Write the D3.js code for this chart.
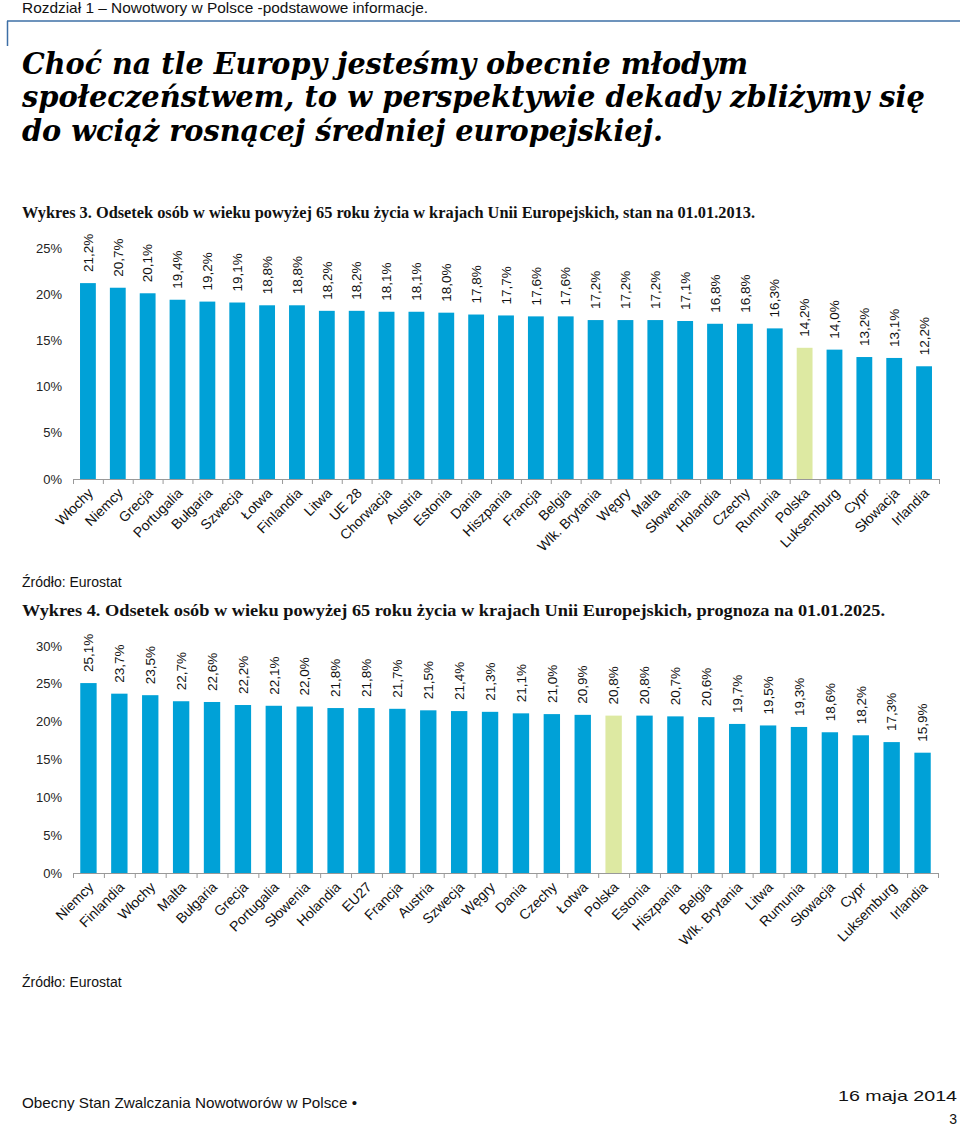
<!DOCTYPE html>
<html><head><meta charset="utf-8">
<script src="https://cdn.jsdelivr.net/npm/d3@7/dist/d3.min.js"></script>
<style>body{margin:0;background:#fff}svg{display:block}</style>
</head><body>
<script>
const categories1 = ["Włochy","Niemcy","Grecja","Portugalia","Bułgaria","Szwecja","Łotwa","Finlandia","Litwa","UE 28","Chorwacja","Austria","Estonia","Dania","Hiszpania","Francja","Belgia","Wlk. Brytania","Węgry","Malta","Słowenia","Holandia","Czechy","Rumunia","Polska","Luksemburg","Cypr","Słowacja","Irlandia"];
const values1 = [21.2,20.7,20.1,19.4,19.2,19.1,18.8,18.8,18.2,18.2,18.1,18.1,18.0,17.8,17.7,17.6,17.6,17.2,17.2,17.2,17.1,16.8,16.8,16.3,14.2,14.0,13.2,13.1,12.2];
const ticks1 = [0,5,10,15,20,25];

const categories2 = ["Niemcy","Finlandia","Włochy","Malta","Bułgaria","Grecja","Portugalia","Słowenia","Holandia","EU27","Francja","Austria","Szwecja","Węgry","Dania","Czechy","Łotwa","Polska","Estonia","Hiszpania","Belgia","Wlk. Brytania","Litwa","Rumunia","Słowacja","Cypr","Luksemburg","Irlandia"];
const values2 = [25.1,23.7,23.5,22.7,22.6,22.2,22.1,22.0,21.8,21.8,21.7,21.5,21.4,21.3,21.1,21.0,20.9,20.8,20.8,20.7,20.6,19.7,19.5,19.3,18.6,18.2,17.3,15.9];
const ticks2 = [0,5,10,15,20,25,30];

const highlight = "Polska";

const W = 960, H = 1127;
const svg = d3.select("body").append("svg").attr("width", W).attr("height", H);
const sans = "Liberation Sans, Arial, sans-serif";
const serif = "DejaVu Serif, Georgia, serif";

// Header
svg.append("text").attr("x", 22).attr("y", 13).attr("font-family", sans).attr("font-size", 15)
  .attr("fill", "#111").attr("textLength", 406).attr("lengthAdjust","spacingAndGlyphs")
  .text("Rozdział 1 – Nowotwory w Polsce -podstawowe informacje.");
svg.append("line").attr("x1", 7).attr("x2", 960).attr("y1", 21).attr("y2", 21).attr("stroke", "#3d6fa6").attr("stroke-width", 1.5);
svg.append("line").attr("x1", 7.5).attr("x2", 7.5).attr("y1", 21).attr("y2", 46).attr("stroke", "#3d6fa6").attr("stroke-width", 1.5);

// Title
const titleLines = [
  ["Choć na tle Europy jesteśmy obecnie młodym", 74, 726],
  ["społeczeństwem, to w perspektywie dekady zbliżymy się", 107, 903],
  ["do wciąż rosnącej średniej europejskiej.", 141, 641]
];
titleLines.forEach(([t, y, len]) => {
  svg.append("text").attr("x", 22).attr("y", y).attr("font-family", serif).attr("font-size", 29)
    .attr("font-weight", "bold").attr("font-style", "italic").attr("fill", "#000")
    .attr("textLength", len).attr("lengthAdjust", "spacingAndGlyphs").text(t);
});

function subtitle(t, y, len) {
  svg.append("text").attr("x", 22).attr("y", y).attr("font-family", "Liberation Serif, serif").attr("font-size", 17)
    .attr("font-weight", "bold").attr("fill", "#111")
    .attr("textLength", len).attr("lengthAdjust", "spacingAndGlyphs").text(t);
}
subtitle("Wykres 3. Odsetek  osób w wieku powyżej 65 roku życia w krajach Unii Europejskich, stan na 01.01.2013.", 218, 733);
subtitle("Wykres 4. Odsetek  osób w wieku powyżej 65 roku życia w krajach Unii Europejskich, prognoza na 01.01.2025.", 616, 863);

function chart(cats, vals, ticks, x0, x1, y0, yTop, maxV) {
  const g = svg.append("g");
  const x = d3.scaleBand().domain(cats).range([x0, x1]).paddingInner(0.47).paddingOuter(0.235);
  const y = d3.scaleLinear().domain([0, maxV]).range([y0, yTop]);
  g.selectAll(".yt").data(ticks).join("text")
    .attr("x", 62).attr("y", d => y(d)).attr("dy", "0.35em").attr("text-anchor", "end")
    .attr("font-family", sans).attr("font-size", 13).attr("fill", "#222").text(d => d + "%");
  g.selectAll(".bar").data(cats).join("rect")
    .attr("x", d => x(d)).attr("width", x.bandwidth())
    .attr("y", (d, i) => y(vals[i])).attr("height", (d, i) => y(0) - y(vals[i]))
    .attr("fill", d => d === highlight ? "#dde9a2" : "#00a1d7");
  const step = x.step();
  g.append("line").attr("x1", x0).attr("x2", x1).attr("y1", y0 + 0.5).attr("y2", y0 + 0.5).attr("stroke", "#999");
  g.selectAll(".tk").data(d3.range(cats.length + 1)).join("line")
    .attr("x1", i => x0 + i * step + 0.5).attr("x2", i => x0 + i * step + 0.5)
    .attr("y1", y0).attr("y2", y0 + 5).attr("stroke", "#999");
  g.selectAll(".vl").data(cats).join("text")
    .attr("transform", (d, i) => `translate(${x(d) + x.bandwidth() / 2},${y(vals[i]) - 11}) rotate(-90)`)
    .attr("dy", "0.35em").attr("font-family", sans).attr("font-size", 13.5).attr("fill", "#111")
    .text((d, i) => vals[i].toFixed(1).replace(".", ",") + "%");
  g.selectAll(".cl").data(cats).join("text")
    .attr("transform", d => `translate(${x(d) + x.bandwidth() / 2 + 6},${y0 + 15}) rotate(-45)`)
    .attr("text-anchor", "end").attr("font-family", sans).attr("font-size", 14).attr("fill", "#111")
    .text(d => d);
}
chart(categories1, values1, ticks1, 73, 939, 479, 248, 25);
chart(categories2, values2, ticks2, 73, 938, 873, 646, 30);

[587, 987].forEach(yy => svg.append("text").attr("x", 22).attr("y", yy).attr("font-family", sans)
  .attr("font-size", 14).attr("fill", "#111").text("Źródło: Eurostat"));

svg.append("text").attr("x", 22).attr("y", 1108).attr("font-family", sans).attr("font-size", 15)
  .attr("fill", "#111").attr("textLength", 335).attr("lengthAdjust", "spacingAndGlyphs")
  .text("Obecny Stan Zwalczania Nowotworów w Polsce •");
svg.append("text").attr("x", 957).attr("y", 1101).attr("text-anchor", "end").attr("font-family", sans).attr("font-size", 15)
  .attr("fill", "#111").attr("textLength", 119).attr("lengthAdjust", "spacingAndGlyphs").text("16 maja 2014");
svg.append("text").attr("x", 957).attr("y", 1124).attr("text-anchor", "end").attr("font-family", sans).attr("font-size", 14)
  .attr("fill", "#111").text("3");
</script>
</body></html>
